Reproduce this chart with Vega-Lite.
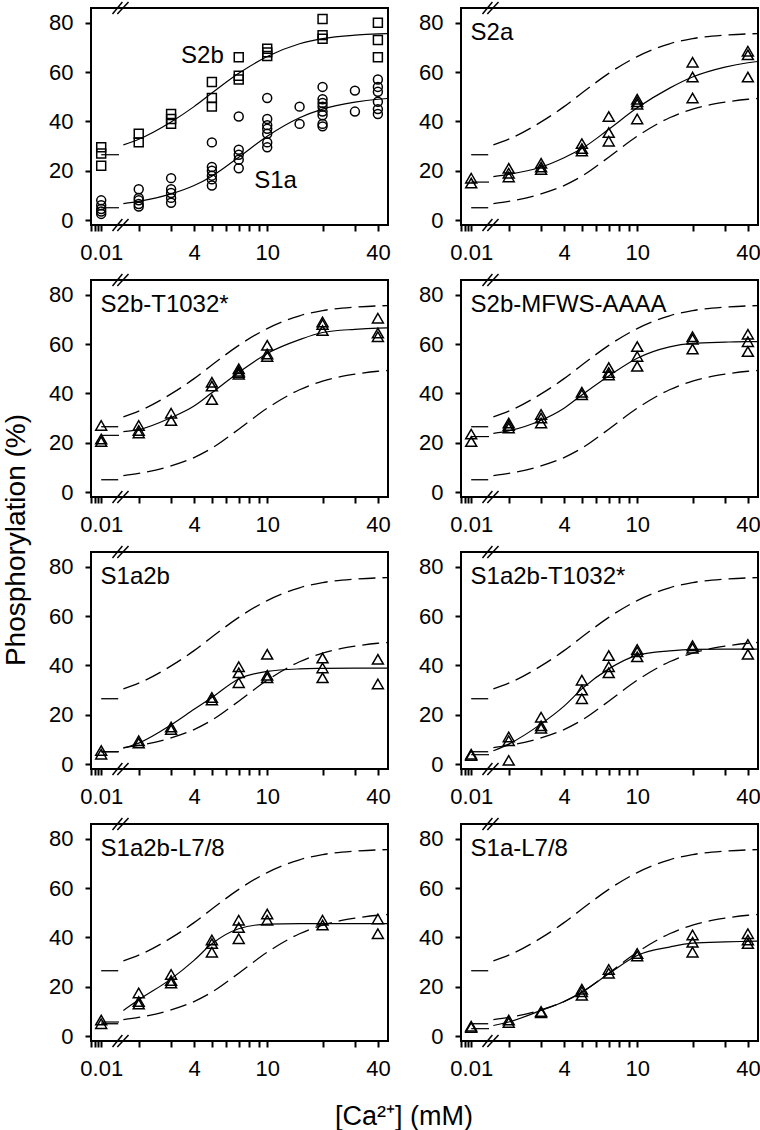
{
"$schema": "https://vega.github.io/schema/vega-lite/v6.json",
"background": "white",
"padding": {"left": 2, "top": 0, "right": 0, "bottom": 0},
"bounds": "flush",
"config": {
  "font": "Liberation Sans",
  "view": {"stroke": "black", "strokeWidth": 2},
  "axis": {"labelFont": "Liberation Sans", "labelColor": "black", "labelFontSize": 22, "tickColor": "black", "tickWidth": 2, "tickSize": 6, "grid": false, "domain": false, "title": null},
  "header": {"labelFont": "Liberation Sans", "titleFont": "Liberation Sans", "titleFontWeight": "normal", "titleColor": "black"}
},
"data": {"values": [
{"kind":"pt","p":[0],"series":"S2b","ca":0.01,"y":29.5},{"kind":"pt","p":[0],"series":"S2b","ca":0.01,"y":27},{"kind":"pt","p":[0],"series":"S2b","ca":0.01,"y":22},
{"kind":"pt","p":[0],"series":"S2b","ca":2,"y":35},{"kind":"pt","p":[0],"series":"S2b","ca":2,"y":31.5},
{"kind":"pt","p":[0],"series":"S2b","ca":3,"y":43},{"kind":"pt","p":[0],"series":"S2b","ca":3,"y":41},{"kind":"pt","p":[0],"series":"S2b","ca":3,"y":39},
{"kind":"pt","p":[0],"series":"S2b","ca":5,"y":56},{"kind":"pt","p":[0],"series":"S2b","ca":5,"y":49.5},{"kind":"pt","p":[0],"series":"S2b","ca":5,"y":46},
{"kind":"pt","p":[0],"series":"S2b","ca":7,"y":66},{"kind":"pt","p":[0],"series":"S2b","ca":7,"y":58.5},{"kind":"pt","p":[0],"series":"S2b","ca":7,"y":57},
{"kind":"pt","p":[0],"series":"S2b","ca":10,"y":69.5},{"kind":"pt","p":[0],"series":"S2b","ca":10,"y":68},{"kind":"pt","p":[0],"series":"S2b","ca":10,"y":66.5},
{"kind":"pt","p":[0],"series":"S2b","ca":20,"y":81.5},{"kind":"pt","p":[0],"series":"S2b","ca":20,"y":75},{"kind":"pt","p":[0],"series":"S2b","ca":20,"y":73.5},
{"kind":"pt","p":[0],"series":"S2b","ca":40,"y":80},{"kind":"pt","p":[0],"series":"S2b","ca":40,"y":73},{"kind":"pt","p":[0],"series":"S2b","ca":40,"y":66},
{"kind":"pt","p":[0],"series":"S1a","ca":0.01,"y":8},{"kind":"pt","p":[0],"series":"S1a","ca":0.01,"y":6},{"kind":"pt","p":[0],"series":"S1a","ca":0.01,"y":4.5},{"kind":"pt","p":[0],"series":"S1a","ca":0.01,"y":3.5},{"kind":"pt","p":[0],"series":"S1a","ca":0.01,"y":2.5},
{"kind":"pt","p":[0],"series":"S1a","ca":2,"y":12.5},{"kind":"pt","p":[0],"series":"S1a","ca":2,"y":9},{"kind":"pt","p":[0],"series":"S1a","ca":2,"y":8},{"kind":"pt","p":[0],"series":"S1a","ca":2,"y":6.5},{"kind":"pt","p":[0],"series":"S1a","ca":2,"y":5.5},
{"kind":"pt","p":[0],"series":"S1a","ca":3,"y":17},{"kind":"pt","p":[0],"series":"S1a","ca":3,"y":12.5},{"kind":"pt","p":[0],"series":"S1a","ca":3,"y":11},{"kind":"pt","p":[0],"series":"S1a","ca":3,"y":9},{"kind":"pt","p":[0],"series":"S1a","ca":3,"y":7},
{"kind":"pt","p":[0],"series":"S1a","ca":5,"y":31.5},{"kind":"pt","p":[0],"series":"S1a","ca":5,"y":21.5},{"kind":"pt","p":[0],"series":"S1a","ca":5,"y":20},{"kind":"pt","p":[0],"series":"S1a","ca":5,"y":18},{"kind":"pt","p":[0],"series":"S1a","ca":5,"y":16.5},{"kind":"pt","p":[0],"series":"S1a","ca":5,"y":14},
{"kind":"pt","p":[0],"series":"S1a","ca":7,"y":42},{"kind":"pt","p":[0],"series":"S1a","ca":7,"y":28.5},{"kind":"pt","p":[0],"series":"S1a","ca":7,"y":26.5},{"kind":"pt","p":[0],"series":"S1a","ca":7,"y":24.5},{"kind":"pt","p":[0],"series":"S1a","ca":7,"y":21},
{"kind":"pt","p":[0],"series":"S1a","ca":10,"y":49.5},{"kind":"pt","p":[0],"series":"S1a","ca":10,"y":41},{"kind":"pt","p":[0],"series":"S1a","ca":10,"y":38.5},{"kind":"pt","p":[0],"series":"S1a","ca":10,"y":37},{"kind":"pt","p":[0],"series":"S1a","ca":10,"y":35},{"kind":"pt","p":[0],"series":"S1a","ca":10,"y":31.5},{"kind":"pt","p":[0],"series":"S1a","ca":10,"y":29.5},
{"kind":"pt","p":[0],"series":"S1a","ca":15,"y":46},{"kind":"pt","p":[0],"series":"S1a","ca":15,"y":39},
{"kind":"pt","p":[0],"series":"S1a","ca":20,"y":54},{"kind":"pt","p":[0],"series":"S1a","ca":20,"y":49},{"kind":"pt","p":[0],"series":"S1a","ca":20,"y":47.5},{"kind":"pt","p":[0],"series":"S1a","ca":20,"y":46},{"kind":"pt","p":[0],"series":"S1a","ca":20,"y":44},{"kind":"pt","p":[0],"series":"S1a","ca":20,"y":42.5},{"kind":"pt","p":[0],"series":"S1a","ca":20,"y":39},{"kind":"pt","p":[0],"series":"S1a","ca":20,"y":38},
{"kind":"pt","p":[0],"series":"S1a","ca":30,"y":52.5},{"kind":"pt","p":[0],"series":"S1a","ca":30,"y":44},
{"kind":"pt","p":[0],"series":"S1a","ca":40,"y":57},{"kind":"pt","p":[0],"series":"S1a","ca":40,"y":54},{"kind":"pt","p":[0],"series":"S1a","ca":40,"y":52},{"kind":"pt","p":[0],"series":"S1a","ca":40,"y":48},{"kind":"pt","p":[0],"series":"S1a","ca":40,"y":45},{"kind":"pt","p":[0],"series":"S1a","ca":40,"y":43},

{"kind":"pt","p":[1],"series":"S2a","ca":0.01,"y":17},{"kind":"pt","p":[1],"series":"S2a","ca":0.01,"y":15},
{"kind":"pt","p":[1],"series":"S2a","ca":2,"y":21},{"kind":"pt","p":[1],"series":"S2a","ca":2,"y":19},{"kind":"pt","p":[1],"series":"S2a","ca":2,"y":17.5},
{"kind":"pt","p":[1],"series":"S2a","ca":3,"y":23},{"kind":"pt","p":[1],"series":"S2a","ca":3,"y":21.5},{"kind":"pt","p":[1],"series":"S2a","ca":3,"y":20.5},
{"kind":"pt","p":[1],"series":"S2a","ca":5,"y":31},{"kind":"pt","p":[1],"series":"S2a","ca":5,"y":29},{"kind":"pt","p":[1],"series":"S2a","ca":5,"y":28},
{"kind":"pt","p":[1],"series":"S2a","ca":7,"y":42},{"kind":"pt","p":[1],"series":"S2a","ca":7,"y":35.5},{"kind":"pt","p":[1],"series":"S2a","ca":7,"y":32},
{"kind":"pt","p":[1],"series":"S2a","ca":10,"y":49},{"kind":"pt","p":[1],"series":"S2a","ca":10,"y":48},{"kind":"pt","p":[1],"series":"S2a","ca":10,"y":47},{"kind":"pt","p":[1],"series":"S2a","ca":10,"y":41},
{"kind":"pt","p":[1],"series":"S2a","ca":20,"y":64},{"kind":"pt","p":[1],"series":"S2a","ca":20,"y":58},{"kind":"pt","p":[1],"series":"S2a","ca":20,"y":49.5},
{"kind":"pt","p":[1],"series":"S2a","ca":40,"y":68.5},{"kind":"pt","p":[1],"series":"S2a","ca":40,"y":67},{"kind":"pt","p":[1],"series":"S2a","ca":40,"y":58},

{"kind":"pt","p":[2],"series":"S2b-T1032*","ca":0.01,"y":27},{"kind":"pt","p":[2],"series":"S2b-T1032*","ca":0.01,"y":21.5},{"kind":"pt","p":[2],"series":"S2b-T1032*","ca":0.01,"y":20.5},
{"kind":"pt","p":[2],"series":"S2b-T1032*","ca":2,"y":27},{"kind":"pt","p":[2],"series":"S2b-T1032*","ca":2,"y":25},{"kind":"pt","p":[2],"series":"S2b-T1032*","ca":2,"y":24},
{"kind":"pt","p":[2],"series":"S2b-T1032*","ca":3,"y":32},{"kind":"pt","p":[2],"series":"S2b-T1032*","ca":3,"y":29},
{"kind":"pt","p":[2],"series":"S2b-T1032*","ca":5,"y":44.5},{"kind":"pt","p":[2],"series":"S2b-T1032*","ca":5,"y":43},{"kind":"pt","p":[2],"series":"S2b-T1032*","ca":5,"y":37.5},
{"kind":"pt","p":[2],"series":"S2b-T1032*","ca":7,"y":50},{"kind":"pt","p":[2],"series":"S2b-T1032*","ca":7,"y":49},{"kind":"pt","p":[2],"series":"S2b-T1032*","ca":7,"y":48.5},{"kind":"pt","p":[2],"series":"S2b-T1032*","ca":7,"y":47.8},
{"kind":"pt","p":[2],"series":"S2b-T1032*","ca":10,"y":59.5},{"kind":"pt","p":[2],"series":"S2b-T1032*","ca":10,"y":56},{"kind":"pt","p":[2],"series":"S2b-T1032*","ca":10,"y":55},
{"kind":"pt","p":[2],"series":"S2b-T1032*","ca":20,"y":69},{"kind":"pt","p":[2],"series":"S2b-T1032*","ca":20,"y":68},{"kind":"pt","p":[2],"series":"S2b-T1032*","ca":20,"y":65.5},
{"kind":"pt","p":[2],"series":"S2b-T1032*","ca":40,"y":70.5},{"kind":"pt","p":[2],"series":"S2b-T1032*","ca":40,"y":64.5},{"kind":"pt","p":[2],"series":"S2b-T1032*","ca":40,"y":63},

{"kind":"pt","p":[3],"series":"S2b-MFWS-AAAA","ca":0.01,"y":23.5},{"kind":"pt","p":[3],"series":"S2b-MFWS-AAAA","ca":0.01,"y":20.5},
{"kind":"pt","p":[3],"series":"S2b-MFWS-AAAA","ca":2,"y":28},{"kind":"pt","p":[3],"series":"S2b-MFWS-AAAA","ca":2,"y":27},{"kind":"pt","p":[3],"series":"S2b-MFWS-AAAA","ca":2,"y":26},
{"kind":"pt","p":[3],"series":"S2b-MFWS-AAAA","ca":3,"y":31.5},{"kind":"pt","p":[3],"series":"S2b-MFWS-AAAA","ca":3,"y":30},{"kind":"pt","p":[3],"series":"S2b-MFWS-AAAA","ca":3,"y":28},
{"kind":"pt","p":[3],"series":"S2b-MFWS-AAAA","ca":5,"y":40.5},{"kind":"pt","p":[3],"series":"S2b-MFWS-AAAA","ca":5,"y":39.5},
{"kind":"pt","p":[3],"series":"S2b-MFWS-AAAA","ca":7,"y":50.5},{"kind":"pt","p":[3],"series":"S2b-MFWS-AAAA","ca":7,"y":48.5},{"kind":"pt","p":[3],"series":"S2b-MFWS-AAAA","ca":7,"y":47.5},
{"kind":"pt","p":[3],"series":"S2b-MFWS-AAAA","ca":10,"y":59},{"kind":"pt","p":[3],"series":"S2b-MFWS-AAAA","ca":10,"y":55},{"kind":"pt","p":[3],"series":"S2b-MFWS-AAAA","ca":10,"y":51},
{"kind":"pt","p":[3],"series":"S2b-MFWS-AAAA","ca":20,"y":63},{"kind":"pt","p":[3],"series":"S2b-MFWS-AAAA","ca":20,"y":62},{"kind":"pt","p":[3],"series":"S2b-MFWS-AAAA","ca":20,"y":58},
{"kind":"pt","p":[3],"series":"S2b-MFWS-AAAA","ca":40,"y":64},{"kind":"pt","p":[3],"series":"S2b-MFWS-AAAA","ca":40,"y":61},{"kind":"pt","p":[3],"series":"S2b-MFWS-AAAA","ca":40,"y":57},

{"kind":"pt","p":[4],"series":"S1a2b","ca":0.01,"y":5.5},{"kind":"pt","p":[4],"series":"S1a2b","ca":0.01,"y":4},
{"kind":"pt","p":[4],"series":"S1a2b","ca":2,"y":9.5},{"kind":"pt","p":[4],"series":"S1a2b","ca":2,"y":8.5},
{"kind":"pt","p":[4],"series":"S1a2b","ca":3,"y":15},{"kind":"pt","p":[4],"series":"S1a2b","ca":3,"y":14},
{"kind":"pt","p":[4],"series":"S1a2b","ca":5,"y":27},{"kind":"pt","p":[4],"series":"S1a2b","ca":5,"y":26},
{"kind":"pt","p":[4],"series":"S1a2b","ca":7,"y":39.5},{"kind":"pt","p":[4],"series":"S1a2b","ca":7,"y":37},{"kind":"pt","p":[4],"series":"S1a2b","ca":7,"y":33},
{"kind":"pt","p":[4],"series":"S1a2b","ca":10,"y":44.5},{"kind":"pt","p":[4],"series":"S1a2b","ca":10,"y":36},{"kind":"pt","p":[4],"series":"S1a2b","ca":10,"y":35},
{"kind":"pt","p":[4],"series":"S1a2b","ca":20,"y":43},{"kind":"pt","p":[4],"series":"S1a2b","ca":20,"y":39},{"kind":"pt","p":[4],"series":"S1a2b","ca":20,"y":35},
{"kind":"pt","p":[4],"series":"S1a2b","ca":40,"y":42.5},{"kind":"pt","p":[4],"series":"S1a2b","ca":40,"y":32.5},

{"kind":"pt","p":[5],"series":"S1a2b-T1032*","ca":0.01,"y":4},{"kind":"pt","p":[5],"series":"S1a2b-T1032*","ca":0.01,"y":3.5},
{"kind":"pt","p":[5],"series":"S1a2b-T1032*","ca":2,"y":11},{"kind":"pt","p":[5],"series":"S1a2b-T1032*","ca":2,"y":9.5},{"kind":"pt","p":[5],"series":"S1a2b-T1032*","ca":2,"y":1.5},
{"kind":"pt","p":[5],"series":"S1a2b-T1032*","ca":3,"y":19},{"kind":"pt","p":[5],"series":"S1a2b-T1032*","ca":3,"y":15.5},{"kind":"pt","p":[5],"series":"S1a2b-T1032*","ca":3,"y":14.5},
{"kind":"pt","p":[5],"series":"S1a2b-T1032*","ca":5,"y":34},{"kind":"pt","p":[5],"series":"S1a2b-T1032*","ca":5,"y":30},{"kind":"pt","p":[5],"series":"S1a2b-T1032*","ca":5,"y":26.5},
{"kind":"pt","p":[5],"series":"S1a2b-T1032*","ca":7,"y":44},{"kind":"pt","p":[5],"series":"S1a2b-T1032*","ca":7,"y":39.5},{"kind":"pt","p":[5],"series":"S1a2b-T1032*","ca":7,"y":37},
{"kind":"pt","p":[5],"series":"S1a2b-T1032*","ca":10,"y":46.5},{"kind":"pt","p":[5],"series":"S1a2b-T1032*","ca":10,"y":45.5},{"kind":"pt","p":[5],"series":"S1a2b-T1032*","ca":10,"y":43.5},
{"kind":"pt","p":[5],"series":"S1a2b-T1032*","ca":20,"y":48},{"kind":"pt","p":[5],"series":"S1a2b-T1032*","ca":20,"y":47},
{"kind":"pt","p":[5],"series":"S1a2b-T1032*","ca":40,"y":48.5},{"kind":"pt","p":[5],"series":"S1a2b-T1032*","ca":40,"y":44.5},

{"kind":"pt","p":[6],"series":"S1a2b-L7/8","ca":0.01,"y":6.5},{"kind":"pt","p":[6],"series":"S1a2b-L7/8","ca":0.01,"y":5},
{"kind":"pt","p":[6],"series":"S1a2b-L7/8","ca":2,"y":17.5},{"kind":"pt","p":[6],"series":"S1a2b-L7/8","ca":2,"y":14},{"kind":"pt","p":[6],"series":"S1a2b-L7/8","ca":2,"y":13},
{"kind":"pt","p":[6],"series":"S1a2b-L7/8","ca":3,"y":25},{"kind":"pt","p":[6],"series":"S1a2b-L7/8","ca":3,"y":22.5},{"kind":"pt","p":[6],"series":"S1a2b-L7/8","ca":3,"y":21.5},
{"kind":"pt","p":[6],"series":"S1a2b-L7/8","ca":5,"y":39},{"kind":"pt","p":[6],"series":"S1a2b-L7/8","ca":5,"y":37.5},{"kind":"pt","p":[6],"series":"S1a2b-L7/8","ca":5,"y":34},
{"kind":"pt","p":[6],"series":"S1a2b-L7/8","ca":7,"y":47},{"kind":"pt","p":[6],"series":"S1a2b-L7/8","ca":7,"y":44},{"kind":"pt","p":[6],"series":"S1a2b-L7/8","ca":7,"y":39.5},
{"kind":"pt","p":[6],"series":"S1a2b-L7/8","ca":10,"y":49.5},{"kind":"pt","p":[6],"series":"S1a2b-L7/8","ca":10,"y":47},
{"kind":"pt","p":[6],"series":"S1a2b-L7/8","ca":20,"y":47},{"kind":"pt","p":[6],"series":"S1a2b-L7/8","ca":20,"y":45},
{"kind":"pt","p":[6],"series":"S1a2b-L7/8","ca":40,"y":47.5},{"kind":"pt","p":[6],"series":"S1a2b-L7/8","ca":40,"y":41.5},

{"kind":"pt","p":[7],"series":"S1a-L7/8","ca":0.01,"y":4},{"kind":"pt","p":[7],"series":"S1a-L7/8","ca":0.01,"y":3.5},
{"kind":"pt","p":[7],"series":"S1a-L7/8","ca":2,"y":6.5},{"kind":"pt","p":[7],"series":"S1a-L7/8","ca":2,"y":5.5},
{"kind":"pt","p":[7],"series":"S1a-L7/8","ca":3,"y":10},{"kind":"pt","p":[7],"series":"S1a-L7/8","ca":3,"y":9.5},
{"kind":"pt","p":[7],"series":"S1a-L7/8","ca":5,"y":19},{"kind":"pt","p":[7],"series":"S1a-L7/8","ca":5,"y":18},{"kind":"pt","p":[7],"series":"S1a-L7/8","ca":5,"y":16.5},
{"kind":"pt","p":[7],"series":"S1a-L7/8","ca":7,"y":27},{"kind":"pt","p":[7],"series":"S1a-L7/8","ca":7,"y":25.5},
{"kind":"pt","p":[7],"series":"S1a-L7/8","ca":10,"y":33.5},{"kind":"pt","p":[7],"series":"S1a-L7/8","ca":10,"y":32.5},
{"kind":"pt","p":[7],"series":"S1a-L7/8","ca":20,"y":41},{"kind":"pt","p":[7],"series":"S1a-L7/8","ca":20,"y":38},{"kind":"pt","p":[7],"series":"S1a-L7/8","ca":20,"y":34},
{"kind":"pt","p":[7],"series":"S1a-L7/8","ca":40,"y":41.5},{"kind":"pt","p":[7],"series":"S1a-L7/8","ca":40,"y":39},{"kind":"pt","p":[7],"series":"S1a-L7/8","ca":40,"y":37.5},

{"kind":"ref","p":[0,1,2,3,4,5,6,7],"series":"S2b","seg":"low","ca":0.01,"y":26.5},{"kind":"ref","p":[0,1,2,3,4,5,6,7],"series":"S2b","seg":"low","ca":0.0125,"y":26.5},
{"kind":"ref","p":[0,1,2,3,4,5,6,7],"series":"S2b","seg":"main","ca":1.65,"y":30.5},{"kind":"ref","p":[0,1,2,3,4,5,6,7],"series":"S2b","seg":"main","ca":2,"y":32.8},{"kind":"ref","p":[0,1,2,3,4,5,6,7],"series":"S2b","seg":"main","ca":3,"y":39.8},{"kind":"ref","p":[0,1,2,3,4,5,6,7],"series":"S2b","seg":"main","ca":4,"y":46},{"kind":"ref","p":[0,1,2,3,4,5,6,7],"series":"S2b","seg":"main","ca":5,"y":51.5},{"kind":"ref","p":[0,1,2,3,4,5,6,7],"series":"S2b","seg":"main","ca":7,"y":59.5},{"kind":"ref","p":[0,1,2,3,4,5,6,7],"series":"S2b","seg":"main","ca":10,"y":66.3},{"kind":"ref","p":[0,1,2,3,4,5,6,7],"series":"S2b","seg":"main","ca":15,"y":71.5},{"kind":"ref","p":[0,1,2,3,4,5,6,7],"series":"S2b","seg":"main","ca":20,"y":73.6},{"kind":"ref","p":[0,1,2,3,4,5,6,7],"series":"S2b","seg":"main","ca":30,"y":75},{"kind":"ref","p":[0,1,2,3,4,5,6,7],"series":"S2b","seg":"main","ca":40,"y":75.5},{"kind":"ref","p":[0,1,2,3,4,5,6,7],"series":"S2b","seg":"main","ca":45,"y":75.6},
{"kind":"ref","p":[0,1,2,3,4,5,6,7],"series":"S1a","seg":"low","ca":0.01,"y":5},{"kind":"ref","p":[0,1,2,3,4,5,6,7],"series":"S1a","seg":"low","ca":0.0125,"y":5},
{"kind":"ref","p":[0,1,2,3,4,5,6,7],"series":"S1a","seg":"main","ca":1.65,"y":6.7},{"kind":"ref","p":[0,1,2,3,4,5,6,7],"series":"S1a","seg":"main","ca":2,"y":7.6},{"kind":"ref","p":[0,1,2,3,4,5,6,7],"series":"S1a","seg":"main","ca":3,"y":10.6},{"kind":"ref","p":[0,1,2,3,4,5,6,7],"series":"S1a","seg":"main","ca":4,"y":14},{"kind":"ref","p":[0,1,2,3,4,5,6,7],"series":"S1a","seg":"main","ca":5,"y":17.8},{"kind":"ref","p":[0,1,2,3,4,5,6,7],"series":"S1a","seg":"main","ca":7,"y":25.5},{"kind":"ref","p":[0,1,2,3,4,5,6,7],"series":"S1a","seg":"main","ca":10,"y":34},{"kind":"ref","p":[0,1,2,3,4,5,6,7],"series":"S1a","seg":"main","ca":15,"y":41.5},{"kind":"ref","p":[0,1,2,3,4,5,6,7],"series":"S1a","seg":"main","ca":20,"y":45},{"kind":"ref","p":[0,1,2,3,4,5,6,7],"series":"S1a","seg":"main","ca":30,"y":47.8},{"kind":"ref","p":[0,1,2,3,4,5,6,7],"series":"S1a","seg":"main","ca":40,"y":49},{"kind":"ref","p":[0,1,2,3,4,5,6,7],"series":"S1a","seg":"main","ca":45,"y":49.3},

{"kind":"fit","p":[1],"series":"S2a","seg":"low","ca":0.01,"y":15.4},{"kind":"fit","p":[1],"series":"S2a","seg":"low","ca":0.0125,"y":15.4},
{"kind":"fit","p":[1],"series":"S2a","seg":"main","ca":1.65,"y":17.6},{"kind":"fit","p":[1],"series":"S2a","seg":"main","ca":2,"y":18.5},{"kind":"fit","p":[1],"series":"S2a","seg":"main","ca":3,"y":21.5},{"kind":"fit","p":[1],"series":"S2a","seg":"main","ca":4,"y":25.3},{"kind":"fit","p":[1],"series":"S2a","seg":"main","ca":5,"y":29},{"kind":"fit","p":[1],"series":"S2a","seg":"main","ca":7,"y":36.8},{"kind":"fit","p":[1],"series":"S2a","seg":"main","ca":10,"y":45.5},{"kind":"fit","p":[1],"series":"S2a","seg":"main","ca":15,"y":53.5},{"kind":"fit","p":[1],"series":"S2a","seg":"main","ca":20,"y":58},{"kind":"fit","p":[1],"series":"S2a","seg":"main","ca":30,"y":62},{"kind":"fit","p":[1],"series":"S2a","seg":"main","ca":40,"y":63.8},{"kind":"fit","p":[1],"series":"S2a","seg":"main","ca":45,"y":64.3},

{"kind":"fit","p":[2],"series":"S2b-T1032*","seg":"low","ca":0.01,"y":23},{"kind":"fit","p":[2],"series":"S2b-T1032*","seg":"low","ca":0.0125,"y":23},
{"kind":"fit","p":[2],"series":"S2b-T1032*","seg":"main","ca":1.65,"y":24.5},{"kind":"fit","p":[2],"series":"S2b-T1032*","seg":"main","ca":2,"y":25.3},{"kind":"fit","p":[2],"series":"S2b-T1032*","seg":"main","ca":3,"y":30.2},{"kind":"fit","p":[2],"series":"S2b-T1032*","seg":"main","ca":4,"y":34.9},{"kind":"fit","p":[2],"series":"S2b-T1032*","seg":"main","ca":5,"y":40.3},{"kind":"fit","p":[2],"series":"S2b-T1032*","seg":"main","ca":7,"y":48.5},{"kind":"fit","p":[2],"series":"S2b-T1032*","seg":"main","ca":10,"y":56.2},{"kind":"fit","p":[2],"series":"S2b-T1032*","seg":"main","ca":15,"y":61.8},{"kind":"fit","p":[2],"series":"S2b-T1032*","seg":"main","ca":20,"y":64.7},{"kind":"fit","p":[2],"series":"S2b-T1032*","seg":"main","ca":30,"y":66},{"kind":"fit","p":[2],"series":"S2b-T1032*","seg":"main","ca":40,"y":66.5},{"kind":"fit","p":[2],"series":"S2b-T1032*","seg":"main","ca":45,"y":66.6},

{"kind":"fit","p":[3],"series":"S2b-MFWS-AAAA","seg":"low","ca":0.01,"y":22.5},{"kind":"fit","p":[3],"series":"S2b-MFWS-AAAA","seg":"low","ca":0.0125,"y":22.5},
{"kind":"fit","p":[3],"series":"S2b-MFWS-AAAA","seg":"main","ca":1.65,"y":23.8},{"kind":"fit","p":[3],"series":"S2b-MFWS-AAAA","seg":"main","ca":2,"y":24.8},{"kind":"fit","p":[3],"series":"S2b-MFWS-AAAA","seg":"main","ca":3,"y":29.1},{"kind":"fit","p":[3],"series":"S2b-MFWS-AAAA","seg":"main","ca":4,"y":34},{"kind":"fit","p":[3],"series":"S2b-MFWS-AAAA","seg":"main","ca":5,"y":39.4},{"kind":"fit","p":[3],"series":"S2b-MFWS-AAAA","seg":"main","ca":7,"y":47.1},{"kind":"fit","p":[3],"series":"S2b-MFWS-AAAA","seg":"main","ca":10,"y":54.3},{"kind":"fit","p":[3],"series":"S2b-MFWS-AAAA","seg":"main","ca":15,"y":58.9},{"kind":"fit","p":[3],"series":"S2b-MFWS-AAAA","seg":"main","ca":20,"y":60.3},{"kind":"fit","p":[3],"series":"S2b-MFWS-AAAA","seg":"main","ca":30,"y":60.8},{"kind":"fit","p":[3],"series":"S2b-MFWS-AAAA","seg":"main","ca":40,"y":61},{"kind":"fit","p":[3],"series":"S2b-MFWS-AAAA","seg":"main","ca":45,"y":61},

{"kind":"fit","p":[4],"series":"S1a2b","seg":"low","ca":0.01,"y":5},{"kind":"fit","p":[4],"series":"S1a2b","seg":"low","ca":0.0125,"y":5},
{"kind":"fit","p":[4],"series":"S1a2b","seg":"main","ca":1.65,"y":6.4},{"kind":"fit","p":[4],"series":"S1a2b","seg":"main","ca":2,"y":8.5},{"kind":"fit","p":[4],"series":"S1a2b","seg":"main","ca":3,"y":15.9},{"kind":"fit","p":[4],"series":"S1a2b","seg":"main","ca":4,"y":22.2},{"kind":"fit","p":[4],"series":"S1a2b","seg":"main","ca":5,"y":27},{"kind":"fit","p":[4],"series":"S1a2b","seg":"main","ca":7,"y":34.5},{"kind":"fit","p":[4],"series":"S1a2b","seg":"main","ca":10,"y":37.6},{"kind":"fit","p":[4],"series":"S1a2b","seg":"main","ca":15,"y":38.6},{"kind":"fit","p":[4],"series":"S1a2b","seg":"main","ca":20,"y":38.8},{"kind":"fit","p":[4],"series":"S1a2b","seg":"main","ca":30,"y":38.9},{"kind":"fit","p":[4],"series":"S1a2b","seg":"main","ca":40,"y":38.9},{"kind":"fit","p":[4],"series":"S1a2b","seg":"main","ca":45,"y":38.9},

{"kind":"fit","p":[5],"series":"S1a2b-T1032*","seg":"low","ca":0.01,"y":3.8},{"kind":"fit","p":[5],"series":"S1a2b-T1032*","seg":"low","ca":0.0125,"y":3.8},
{"kind":"fit","p":[5],"series":"S1a2b-T1032*","seg":"main","ca":1.65,"y":5.4},{"kind":"fit","p":[5],"series":"S1a2b-T1032*","seg":"main","ca":2,"y":8.1},{"kind":"fit","p":[5],"series":"S1a2b-T1032*","seg":"main","ca":3,"y":16.3},{"kind":"fit","p":[5],"series":"S1a2b-T1032*","seg":"main","ca":4,"y":23.5},{"kind":"fit","p":[5],"series":"S1a2b-T1032*","seg":"main","ca":5,"y":30.5},{"kind":"fit","p":[5],"series":"S1a2b-T1032*","seg":"main","ca":7,"y":38.6},{"kind":"fit","p":[5],"series":"S1a2b-T1032*","seg":"main","ca":10,"y":44.1},{"kind":"fit","p":[5],"series":"S1a2b-T1032*","seg":"main","ca":15,"y":45.9},{"kind":"fit","p":[5],"series":"S1a2b-T1032*","seg":"main","ca":20,"y":46.5},{"kind":"fit","p":[5],"series":"S1a2b-T1032*","seg":"main","ca":30,"y":46.6},{"kind":"fit","p":[5],"series":"S1a2b-T1032*","seg":"main","ca":40,"y":46.6},{"kind":"fit","p":[5],"series":"S1a2b-T1032*","seg":"main","ca":45,"y":46.6},

{"kind":"fit","p":[6],"series":"S1a2b-L7/8","seg":"low","ca":0.01,"y":5.7},{"kind":"fit","p":[6],"series":"S1a2b-L7/8","seg":"low","ca":0.0125,"y":5.7},
{"kind":"fit","p":[6],"series":"S1a2b-L7/8","seg":"main","ca":1.65,"y":10.4},{"kind":"fit","p":[6],"series":"S1a2b-L7/8","seg":"main","ca":2,"y":14.7},{"kind":"fit","p":[6],"series":"S1a2b-L7/8","seg":"main","ca":3,"y":23.2},{"kind":"fit","p":[6],"series":"S1a2b-L7/8","seg":"main","ca":4,"y":30.7},{"kind":"fit","p":[6],"series":"S1a2b-L7/8","seg":"main","ca":5,"y":37.4},{"kind":"fit","p":[6],"series":"S1a2b-L7/8","seg":"main","ca":7,"y":43.5},{"kind":"fit","p":[6],"series":"S1a2b-L7/8","seg":"main","ca":10,"y":45.4},{"kind":"fit","p":[6],"series":"S1a2b-L7/8","seg":"main","ca":15,"y":45.6},{"kind":"fit","p":[6],"series":"S1a2b-L7/8","seg":"main","ca":20,"y":45.6},{"kind":"fit","p":[6],"series":"S1a2b-L7/8","seg":"main","ca":30,"y":45.6},{"kind":"fit","p":[6],"series":"S1a2b-L7/8","seg":"main","ca":40,"y":45.6},{"kind":"fit","p":[6],"series":"S1a2b-L7/8","seg":"main","ca":45,"y":45.6},

{"kind":"fit","p":[7],"series":"S1a-L7/8","seg":"low","ca":0.01,"y":3},{"kind":"fit","p":[7],"series":"S1a-L7/8","seg":"low","ca":0.0125,"y":3},
{"kind":"fit","p":[7],"series":"S1a-L7/8","seg":"main","ca":1.65,"y":4.3},{"kind":"fit","p":[7],"series":"S1a-L7/8","seg":"main","ca":2,"y":5.7},{"kind":"fit","p":[7],"series":"S1a-L7/8","seg":"main","ca":3,"y":10.4},{"kind":"fit","p":[7],"series":"S1a-L7/8","seg":"main","ca":4,"y":14},{"kind":"fit","p":[7],"series":"S1a-L7/8","seg":"main","ca":5,"y":17.8},{"kind":"fit","p":[7],"series":"S1a-L7/8","seg":"main","ca":7,"y":25.3},{"kind":"fit","p":[7],"series":"S1a-L7/8","seg":"main","ca":10,"y":32.7},{"kind":"fit","p":[7],"series":"S1a-L7/8","seg":"main","ca":15,"y":36.1},{"kind":"fit","p":[7],"series":"S1a-L7/8","seg":"main","ca":20,"y":37.7},{"kind":"fit","p":[7],"series":"S1a-L7/8","seg":"main","ca":30,"y":38.2},{"kind":"fit","p":[7],"series":"S1a-L7/8","seg":"main","ca":40,"y":38.4},{"kind":"fit","p":[7],"series":"S1a-L7/8","seg":"main","ca":45,"y":38.5},

{"kind":"lab","p":[0],"text":"S2b","ca":3.4,"y":66.5},
{"kind":"lab","p":[0],"text":"S1a","ca":8.5,"y":15.7},
{"kind":"lab","p":[1],"text":"S2a","ca":1.24,"y":76},
{"kind":"lab","p":[2],"text":"S2b-T1032*","ca":1.24,"y":76},
{"kind":"lab","p":[3],"text":"S2b-MFWS-AAAA","ca":1.24,"y":76},
{"kind":"lab","p":[4],"text":"S1a2b","ca":1.24,"y":76},
{"kind":"lab","p":[5],"text":"S1a2b-T1032*","ca":1.24,"y":76},
{"kind":"lab","p":[6],"text":"S1a2b-L7/8","ca":1.24,"y":76},
{"kind":"lab","p":[7],"text":"S1a-L7/8","ca":1.24,"y":76}
]},
"transform": [
  {"flatten": ["p"], "as": ["pi"]},
  {"calculate": "floor(datum.pi / 2)", "as": "r"},
  {"calculate": "datum.pi % 2", "as": "c"},
  {"calculate": "datum.ca < 0.1 ? datum.ca * 125 : datum.ca", "as": "xp"}
],
"facet": {
  "row": {"field": "r", "type": "ordinal", "header": {"labels": false, "title": "Phosphorylation (%)", "titleFontSize": 28, "titlePadding": 50}},
  "column": {"field": "c", "type": "ordinal", "header": {"labels": false, "labelOrient": "bottom", "title": "[Ca²⁺] (mM)", "titleOrient": "bottom", "titleFontSize": 27, "titlePadding": 53}}
},
"spacing": {"row": 55, "column": 73},
"resolve": {"axis": {"x": "independent", "y": "independent"}},
"spec": {
  "width": 297,
  "height": 217,
  "layer": [
    {"transform": [{"filter": "datum.kind == 'pt' && (datum.series == 'S2b' || datum.series == 'S1a')"}],
     "mark": {"type": "point", "filled": false, "stroke": "black", "strokeWidth": 1.5, "size": 80, "opacity": 1},
     "encoding": {
       "x": {"field": "xp", "type": "quantitative",
             "scale": {"type": "log", "domain": [1.1, 45.4], "nice": false},
             "axis": {"values": [1.1, 1.15, 1.2, 1.25, 2, 3, 4, 5, 6, 7, 8, 9, 10, 20, 30, 40],
                      "labelExpr": "datum.value == 1.25 ? '0.01' : (datum.value == 4 || datum.value == 10 || datum.value == 40) ? '' + datum.value : ''",
                      "labelOverlap": false, "labelFlush": false, "labelPadding": 11, "title": null}},
       "y": {"field": "y", "type": "quantitative",
             "scale": {"domain": [-2, 86], "nice": false, "zero": false},
             "axis": {"values": [0, 20, 40, 60, 80], "labelPadding": 12, "title": null}},
       "shape": {"field": "series", "type": "nominal", "scale": {"domain": ["S2b", "S1a"], "range": ["square", "circle"]}, "legend": null}}},
    {"transform": [{"filter": "datum.kind == 'ref' && datum.pi > 0"}],
     "mark": {"type": "line", "stroke": "black", "strokeWidth": 1.3, "strokeDash": [17, 7], "interpolate": "monotone"},
     "encoding": {"x": {"field": "xp", "type": "quantitative"}, "y": {"field": "y", "type": "quantitative"}, "detail": [{"field": "series"}, {"field": "seg"}]}},
    {"transform": [{"filter": "datum.kind == 'fit' || (datum.kind == 'ref' && datum.pi == 0)"}],
     "mark": {"type": "line", "stroke": "black", "strokeWidth": 1.2, "interpolate": "monotone"},
     "encoding": {"x": {"field": "xp", "type": "quantitative"}, "y": {"field": "y", "type": "quantitative"}, "detail": [{"field": "series"}, {"field": "seg"}]}},
    {"transform": [{"filter": "datum.kind == 'pt' && datum.series != 'S2b' && datum.series != 'S1a'"}],
     "mark": {"type": "point", "shape": "triangle-up", "filled": false, "stroke": "black", "strokeWidth": 1.5, "size": 120, "opacity": 1},
     "encoding": {"x": {"field": "xp", "type": "quantitative"}, "y": {"field": "y", "type": "quantitative"}}},
    {"transform": [{"filter": "datum.kind == 'lab'"}],
     "mark": {"type": "text", "align": "left", "baseline": "middle", "fontSize": 24, "font": "Liberation Sans", "color": "black"},
     "encoding": {"x": {"field": "xp", "type": "quantitative"}, "y": {"field": "y", "type": "quantitative"}, "text": {"field": "text"}}},
    {"transform": [{"filter": "datum.kind == 'lab' && datum.text != 'S1a'"}],
     "mark": {"type": "rule", "stroke": "black", "strokeWidth": 1.5},
     "encoding": {"x": {"datum": 1.44, "type": "quantitative"}, "x2": {"datum": 1.63}, "y": {"datum": -4.4, "type": "quantitative"}, "y2": {"datum": 0.4}}},
    {"transform": [{"filter": "datum.kind == 'lab' && datum.text != 'S1a'"}],
     "mark": {"type": "rule", "stroke": "black", "strokeWidth": 1.5},
     "encoding": {"x": {"datum": 1.53, "type": "quantitative"}, "x2": {"datum": 1.76}, "y": {"datum": -4.4, "type": "quantitative"}, "y2": {"datum": 0.4}}},
    {"transform": [{"filter": "datum.kind == 'lab' && datum.text != 'S1a'"}],
     "mark": {"type": "rule", "stroke": "black", "strokeWidth": 1.5},
     "encoding": {"x": {"datum": 1.44, "type": "quantitative"}, "x2": {"datum": 1.63}, "y": {"datum": 83.6, "type": "quantitative"}, "y2": {"datum": 88.4}}},
    {"transform": [{"filter": "datum.kind == 'lab' && datum.text != 'S1a'"}],
     "mark": {"type": "rule", "stroke": "black", "strokeWidth": 1.5},
     "encoding": {"x": {"datum": 1.53, "type": "quantitative"}, "x2": {"datum": 1.76}, "y": {"datum": 83.6, "type": "quantitative"}, "y2": {"datum": 88.4}}}
  ]
}
}
